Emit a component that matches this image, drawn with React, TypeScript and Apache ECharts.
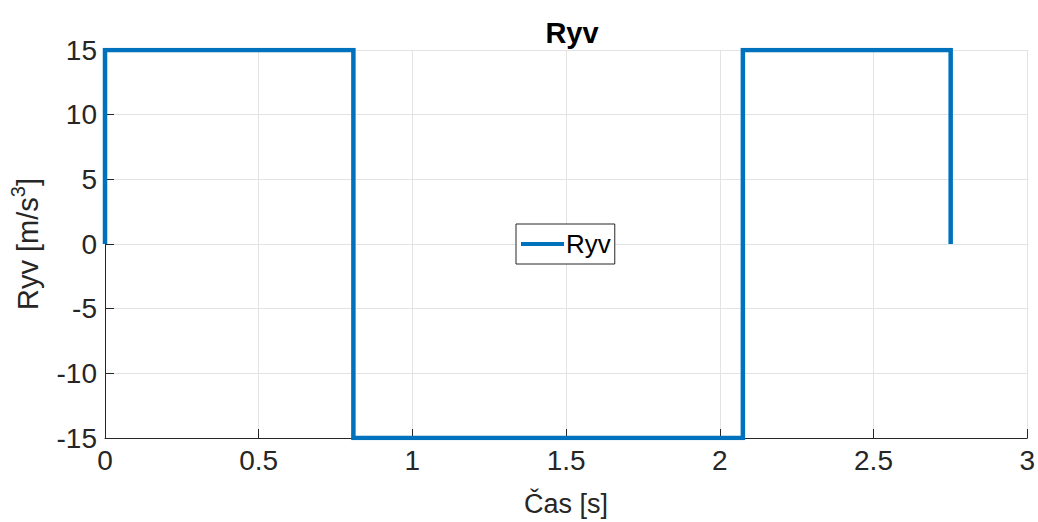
import React, { useEffect, useRef } from "react";
import * as echarts from "echarts";

const timeValues = [0, 0, 0.808, 0.808, 2.075, 2.075, 2.751, 2.751];
const jerkValues = [0, 15, 15, -15, -15, 15, 15, 0];
const seriesName = "Ryv";
const xTicks = [0, 0.5, 1, 1.5, 2, 2.5, 3];
const yTicks = [-15, -10, -5, 0, 5, 10, 15];

export default function App() {
  const ref = useRef<HTMLDivElement>(null);
  useEffect(() => {
    if (!ref.current) return;
    const chart = echarts.init(ref.current, null, { renderer: "svg" });
    const font = "'Liberation Sans', Arial, Helvetica, sans-serif";
    const axisColor = "#262626";
    chart.setOption({
      animation: false,
      backgroundColor: "#ffffff",
      textStyle: { fontFamily: font },
      title: {
        text: "Ryv",
        left: 567,
        top: 13,
        textAlign: "center",
        textStyle: { fontFamily: font, fontSize: 29, fontWeight: "bold", color: "#000" },
      },
      grid: { left: 105, right: 8, top: 50, bottom: 84, containLabel: false },
      legend: {
        left: 516,
        top: 224,
        data: [seriesName],
        icon: "rect",
        itemWidth: 43,
        itemHeight: 4,
        itemGap: 2,
        padding: [7, 4, 7, 5],
        backgroundColor: "#fff",
        borderColor: "#262626",
        borderWidth: 1,
        borderRadius: 0,
        textStyle: { fontFamily: font, fontSize: 26, color: "#000", padding: [0, 0, 0, -3] },
      },
      xAxis: {
        type: "value",
        min: 0,
        max: 3,
        interval: 0.5,
        name: "Čas [s]",
        nameLocation: "middle",
        nameGap: 52,
        nameTextStyle: { fontFamily: font, fontSize: 27, color: axisColor },
        axisLine: { show: true, onZero: false, lineStyle: { color: axisColor, width: 1 } },
        axisTick: { show: true, inside: true, length: 9, lineStyle: { color: axisColor } },
        axisLabel: {
          fontFamily: font,
          fontSize: 28,
          color: axisColor,
          margin: 8,
          formatter: (v: number) => (xTicks.includes(v) ? String(v) : ""),
        },
        splitLine: { show: true, lineStyle: { color: "#e3e3e3", width: 1 } },
      },
      yAxis: {
        type: "value",
        min: -15,
        max: 15,
        interval: 5,
        name: "Ryv [m/s{sup|3}]",
        nameLocation: "middle",
        nameGap: 58,
        nameRotate: 90,
        nameTextStyle: {
          fontFamily: font,
          fontSize: 29,
          color: axisColor,
          rich: {
            sup: { fontFamily: font, fontSize: 20, color: axisColor, padding: [0, 0, 19, 0] },
          },
        },
        axisLine: { show: true, onZero: false, lineStyle: { color: axisColor, width: 1 } },
        axisTick: { show: true, inside: true, length: 9, lineStyle: { color: axisColor } },
        axisLabel: {
          fontFamily: font,
          fontSize: 28,
          color: axisColor,
          margin: 8,
          formatter: (v: number) => (yTicks.includes(v) ? String(v) : ""),
        },
        splitLine: { show: true, lineStyle: { color: "#e3e3e3", width: 1 } },
      },
      series: [
        {
          name: seriesName,
          type: "line",
          data: timeValues.map((t, i) => [t, jerkValues[i]]),
          showSymbol: false,
          symbol: "none",
          lineStyle: { color: "#0072BD", width: 4.5, join: "miter" },
          itemStyle: { color: "#0072BD" },
        },
      ],
    });
    return () => chart.dispose();
  }, []);
  return <div ref={ref} style={{ width: 1038, height: 522, position: "absolute", left: 0, top: 0 }} />;
}
